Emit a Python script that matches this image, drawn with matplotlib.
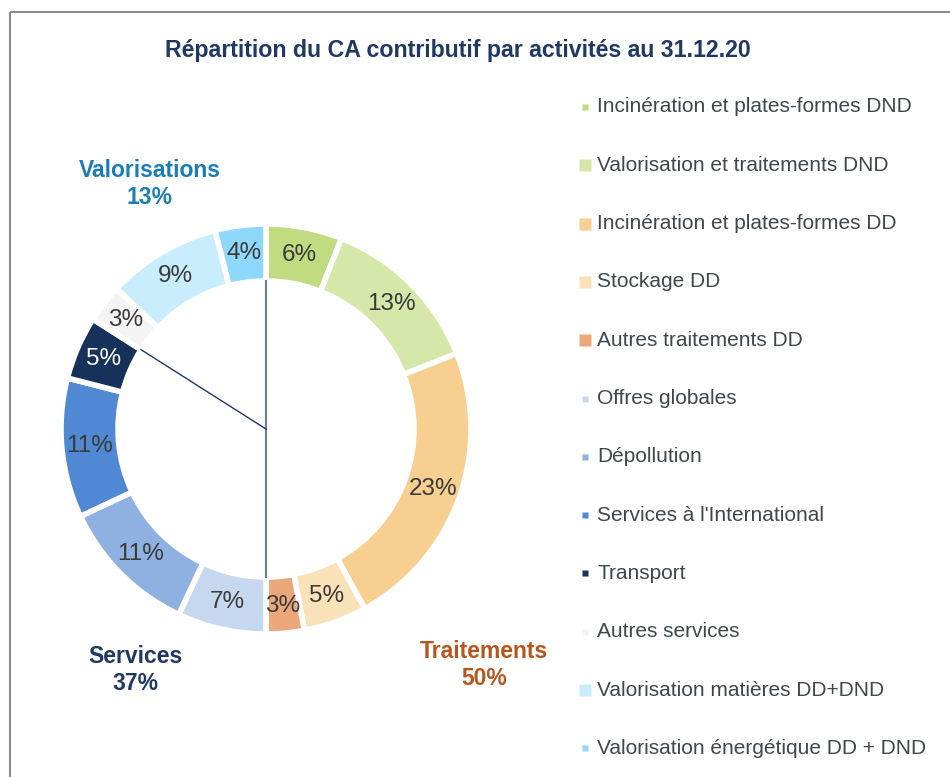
import matplotlib.pyplot as plt
import numpy as np

plt.rcParams["font.family"] = ["Liberation Sans", "DejaVu Sans"]

# Data (clockwise from 12 o'clock)
activities = [
    "Incinération et plates-formes DND",
    "Valorisation et traitements DND",
    "Incinération et plates-formes DD",
    "Stockage DD",
    "Autres traitements DD",
    "Offres globales",
    "Dépollution",
    "Services à l'International",
    "Transport",
    "Autres services",
    "Valorisation matières DD+DND",
    "Valorisation énergétique DD + DND",
]
shares = [6, 13, 23, 5, 3, 7, 11, 11, 5, 3, 9, 4]
colors = [
    "#c1dc80", "#d6e8a9", "#f6cf91", "#f9e1b8", "#eba87a", "#c6d8ef",
    "#8eb1e2", "#5088d3", "#17325a", "#f4f4f4", "#c9edfc", "#8ed8fb",
]
marker_sizes = [4.5, 8, 8, 8, 8, 4.5, 4.5, 4.5, 4.5, 4.5, 8, 4.5]

groups = ["Traitements", "Services", "Valorisations"]
group_shares = [50, 37, 13]
group_colors = ["#b5561c", "#1f3864", "#1b7db3"]

W, H = 950, 777


def Y(y):
    # pixel row (from top) -> data y
    return H - y


fig = plt.figure(figsize=(W / 100, H / 100), dpi=100)
ax = fig.add_axes([0, 0, 1, 1])

cx, cy, r_out, ring = 266, Y(429), 205, 57

wedges, _, autotexts = ax.pie(
    shares, radius=r_out, center=(cx, cy), startangle=90, counterclock=False,
    colors=colors, autopct=lambda p: f"{p:.0f}%", pctdistance=0.865,
    wedgeprops=dict(width=ring, edgecolor="white", linewidth=4),
    textprops=dict(fontsize=17.5, color="#3a3a3a"),
)
autotexts[activities.index("Transport")].set_color("white")

# separator lines from the centre to the inner edge of the ring
cum = np.concatenate([[0], np.cumsum(shares)]) / sum(shares)
r_in = r_out - ring
for frac, col, lw in [(cum[0], "#6a7c9c", 1.5), (cum[5], "#6a7c9c", 1.5), (cum[9], "#1f3864", 1.0)]:
    ang = np.pi / 2 - 2 * np.pi * frac
    ax.plot([cx, cx + r_in * np.cos(ang)], [cy, cy + r_in * np.sin(ang)], color=col, lw=lw, zorder=1)

ax.set_xlim(0, W)
ax.set_ylim(0, H)
ax.set_aspect("equal")
ax.axis("off")

ax.text(458, Y(50), "Répartition du CA contributif par activités au 31.12.20",
        ha="center", va="center", fontsize=16.7, fontweight="bold", color="#1f3864")

# group labels
group_pos = {"Traitements": (484, 665), "Services": (135, 670), "Valorisations": (150, 184)}
for g, s, c in zip(groups, group_shares, group_colors):
    x, y = group_pos[g]
    ax.text(x, Y(y), f"{g}\n{s}%", ha="center", va="center", fontsize=16.5,
            fontweight="bold", color=c, linespacing=1.25)

# legend
for i, (lab, col, ms) in enumerate(zip(activities, colors, marker_sizes)):
    y = Y(107 + i * 58.3)
    ax.plot(585, y, marker="s", ms=ms, color=col, mec="none", ls="none")
    ax.text(597, y, lab, ha="left", va="center", fontsize=15, color="#3e474c")

# frame
ax.plot([10, 10], [0, Y(12)], color="#8c8c8c", lw=1.5, solid_capstyle="butt")
ax.plot([10, W], [Y(12), Y(12)], color="#8c8c8c", lw=1.5, solid_capstyle="butt")

fig.savefig("out.png", dpi=100)
